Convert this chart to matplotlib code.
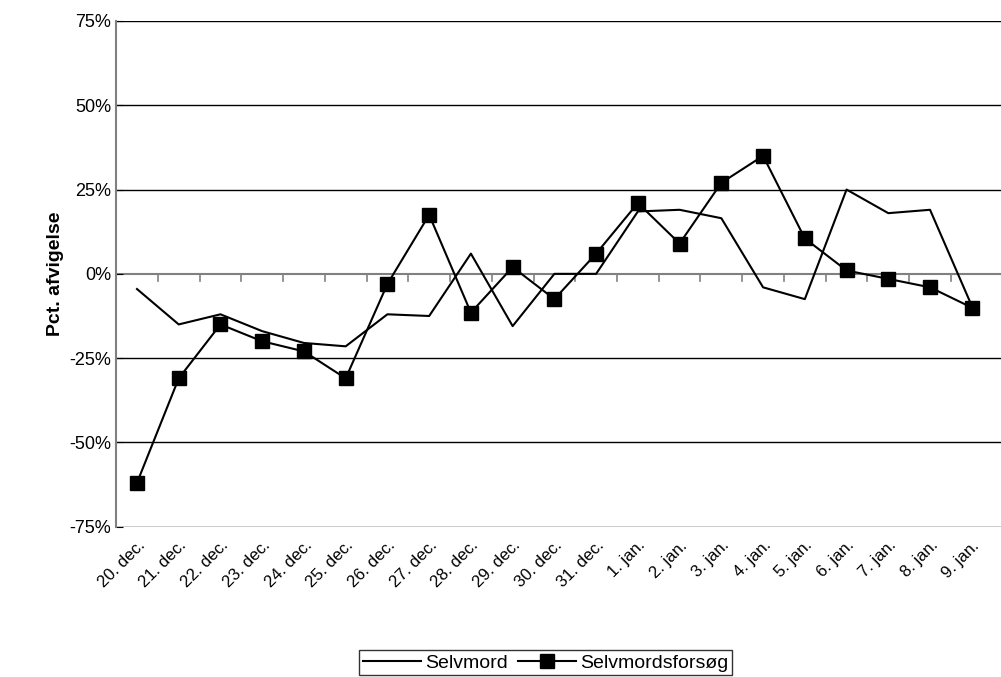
import matplotlib
matplotlib.use("Agg")
import matplotlib.pyplot as plt
import numpy as np

labels = ["20. dec.","21. dec.","22. dec.","23. dec.","24. dec.","25. dec.","26. dec.","27. dec.",
          "28. dec.","29. dec.","30. dec.","31. dec.","1. jan.","2. jan.","3. jan.","4. jan.",
          "5. jan.","6. jan.","7. jan.","8. jan.","9. jan."]
selvmord = [-4.5,-15,-12,-17,-20.5,-21.5,-12,-12.5,6,-15.5,0,0,18.5,19,16.5,-4,-7.5,25,18,19,-9.5]
forsog = [-62,-31,-15,-20,-23,-31,-3,17.5,-11.5,2,-7.5,6,21,9,27,35,10.5,1,-1.5,-4,-10]

plt.rcParams['font.family'] = ['Liberation Sans', 'DejaVu Sans']
fig = plt.figure(figsize=(10.01, 6.77), dpi=100)
ax = fig.add_axes([0.116, 0.222, 0.884, 0.747])
x = np.arange(len(labels))
for v in [-75,-50,-25,25,50,75]:
    ax.axhline(v, color='black', lw=1, zorder=1)
ax.axhline(0, color='#808080', lw=1.5, zorder=1)
for b in np.arange(0.5, len(labels)-1, 1):
    ax.plot([b,b],[0,-2.2], color='#808080', lw=1.2, zorder=1)
l1, = ax.plot(x, selvmord, color='black', lw=1.5, label='Selvmord', zorder=3)
l2, = ax.plot(x, forsog, color='black', lw=1.5, marker='s', ms=10, label='Selvmordsforsøg', zorder=4)
ax.set_xlim(-0.5, len(labels)-0.3)
ax.set_ylim(-75, 75)
ax.set_yticks([-75,-50,-25,0,25,50,75])
ax.set_yticklabels([f"{v}%" for v in [-75,-50,-25,0,25,50,75]], fontsize=13)
ax.set_xticks(x)
ax.set_xticklabels(labels, rotation=45, ha='right', rotation_mode='anchor', fontsize=12)
ax.tick_params(axis='x', length=0, pad=8)
ax.tick_params(axis='y', length=5, direction='in')
for s in ['top','right','bottom']:
    ax.spines[s].set_visible(False)
ax.spines['left'].set_color('#808080')
ax.spines['left'].set_linewidth(1.5)
ax.set_ylabel('Pct. afvigelse', fontsize=14, fontweight='bold')
leg = fig.legend(handles=[l1,l2], loc='lower center', bbox_to_anchor=(0.545, -0.012), ncol=2,
                 frameon=True, fancybox=False, edgecolor='black', fontsize=14,
                 handlelength=3, columnspacing=0.5, handletextpad=0.2, borderpad=0.2)
leg.get_frame().set_linewidth(1)
fig.savefig('out.png', dpi=100)
